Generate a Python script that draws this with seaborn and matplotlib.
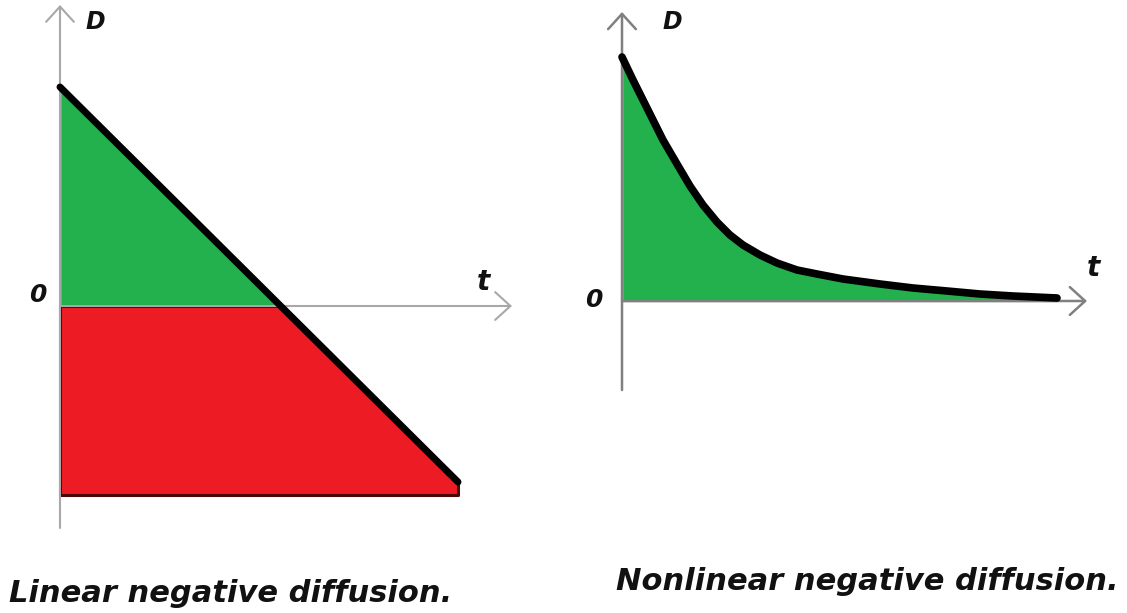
import numpy as np
import seaborn as sns
import matplotlib.pyplot as plt

sns.set_theme(style='white')
plt.rcParams['font.family'] = ['DejaVu Sans']

# linear panel: D falls on a straight line through zero
lin_t = [0.0, 3.98]
lin_D = [2.19, -1.76]
lin_floor = -1.89

# nonlinear panel: D decays towards zero
exp_t = [0.0, 0.11, 0.21, 0.31, 0.41, 0.55, 0.68, 0.81, 0.95, 1.08, 1.21, 1.38,
         1.55, 1.75, 1.95, 2.21, 2.58, 2.91, 3.25, 3.58, 3.91, 4.35]
exp_D = [2.44, 2.21, 2.01, 1.81, 1.61, 1.37, 1.15, 0.96, 0.79, 0.66, 0.56, 0.46,
         0.38, 0.31, 0.27, 0.22, 0.17, 0.13, 0.10, 0.07, 0.05, 0.03]

green = '#22b14c'
red = '#ed1c24'
axis_grey = '#a8a8a8'

titles = ['Linear negative diffusion.', 'Nonlinear negative diffusion.']


def draw_axes(ax, x_end, y_lo, y_hi, color, lw):
    head = '->,head_length=0.55,head_width=0.5'
    ax.annotate('', xy=(x_end, 0), xytext=(0, 0),
                arrowprops=dict(arrowstyle=head, color=color, lw=lw, mutation_scale=20,
                                shrinkA=0, shrinkB=0), zorder=3)
    ax.annotate('', xy=(0, y_hi), xytext=(0, y_lo),
                arrowprops=dict(arrowstyle=head, color=color, lw=lw, mutation_scale=20,
                                shrinkA=0, shrinkB=0), zorder=3)


def label(ax, x, y, s, size=17, ha='center'):
    ax.text(x, y, s, fontsize=size, fontweight='bold', fontstyle='italic',
            ha=ha, va='center', color='#111111')


fig = plt.figure(figsize=(11.27, 6.13), dpi=100)

# ---- left panel ----
ax1 = fig.add_axes([0, 0, 560 / 1127, 1])
ax1.set_xlim(-0.60, 5.00)
ax1.set_ylim(-3.07, 3.06)
ax1.axis('off')

t_cross = np.interp(0, lin_D[::-1], lin_t[::-1])
ax1.fill_between([lin_t[0], t_cross], 0, [lin_D[0], 0], facecolor=green,
                 edgecolor='#c4c4c4', lw=1.2, zorder=2)
ax1.fill_between([lin_t[0], t_cross, lin_t[1]], lin_floor, [0, 0, lin_D[1]],
                 facecolor=red, edgecolor='#4a0808', lw=2.2, zorder=2)
draw_axes(ax1, 4.52, -2.22, 3.01, axis_grey, 1.5)
sns.lineplot(x=lin_t, y=lin_D, ax=ax1, color='black', lw=5, zorder=4)

label(ax1, 0.35, 2.84, 'D')
label(ax1, -0.22, 0.11, '0', size=18)
label(ax1, 4.23, 0.24, 't', size=20)
label(ax1, 1.71, -2.87, titles[0], size=22)

# ---- right panel ----
ax2 = fig.add_axes([560 / 1127, 0, 567 / 1127, 1])
ax2.set_xlim(-0.62, 5.05)
ax2.set_ylim(-3.12, 3.01)
ax2.axis('off')

ax2.fill_between(exp_t, 0, exp_D, facecolor=green, edgecolor='#c4c4c4', lw=1.2, zorder=2)
draw_axes(ax2, 4.65, -0.89, 2.89, '#808080', 1.8)
line = sns.lineplot(x=exp_t, y=exp_D, ax=ax2, color='black', lw=5.5, zorder=4)
for ln in line.get_lines():
    ln.set_solid_joinstyle('round')

label(ax2, 0.50, 2.79, 'D')
label(ax2, -0.28, 0.01, '0', size=18)
label(ax2, 4.71, 0.33, 't', size=20)
label(ax2, 2.45, -2.81, titles[1], size=22)

fig.savefig('out.png', dpi=100)
